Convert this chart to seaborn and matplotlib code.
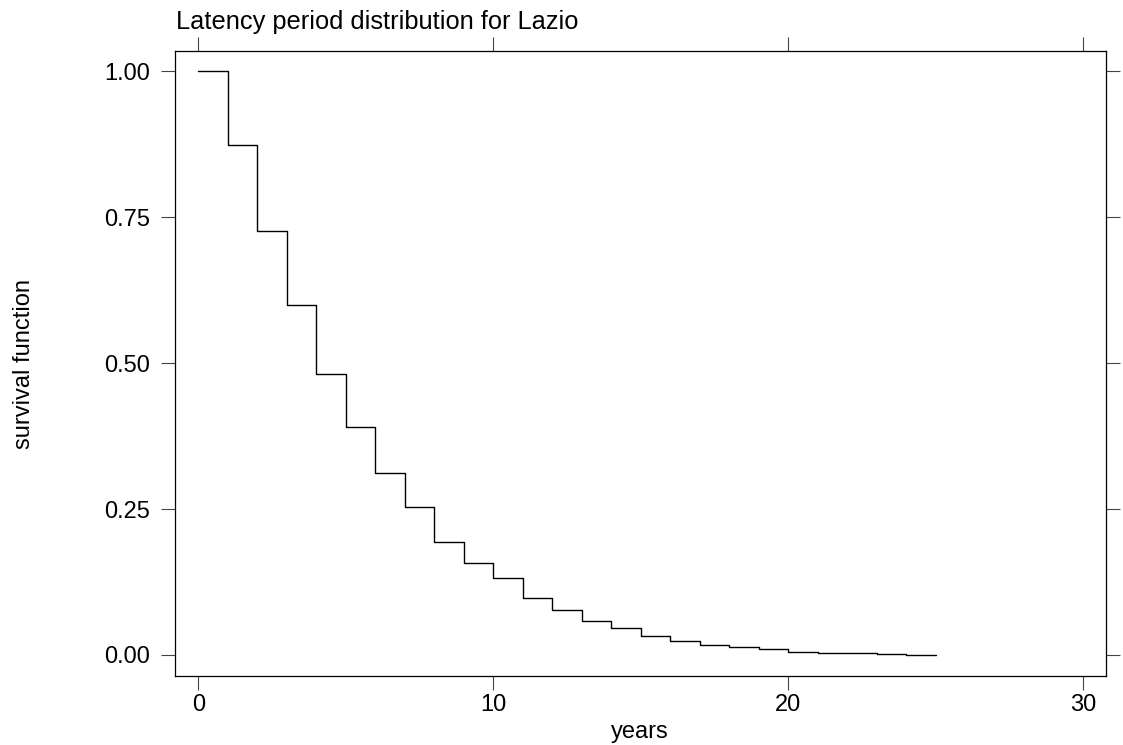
import pandas as pd
import seaborn as sns
import matplotlib.pyplot as plt

# survival function values, one per year (step held until next year)
years = list(range(26))
survival = [1.000, 0.874, 0.726, 0.600, 0.482, 0.390, 0.311, 0.253, 0.193, 0.157,
            0.132, 0.098, 0.077, 0.058, 0.047, 0.033, 0.024, 0.017, 0.013, 0.010,
            0.005, 0.004, 0.003, 0.002, 0.0007, 0.0007]

x_ticks = [0, 10, 20, 30]
y_ticks = [0.0, 0.25, 0.5, 0.75, 1.0]
y_ticklabels = ["0.00", "0.25", "0.50", "0.75", "1.00"]

title = "Latency period distribution for Lazio"

sns.set_style("ticks")
plt.rcParams["font.family"] = ["Liberation Sans", "DejaVu Sans"]
plt.rcParams["text.color"] = "black"
plt.rcParams["axes.labelcolor"] = "black"
plt.rcParams["xtick.labelcolor"] = "black"
plt.rcParams["ytick.labelcolor"] = "black"

df = pd.DataFrame({"years": years, "survival": survival})

fig = plt.figure(figsize=(11.23, 7.45), dpi=100)
ax = fig.add_axes([0.1558, 0.0926, 0.8288, 0.8389])

sns.lineplot(data=df, x="years", y="survival", drawstyle="steps-post",
             color="black", linewidth=1, errorbar=None, ax=ax)

ax.set_xlim(-0.79, 30.76)
ax.set_ylim(-0.036, 1.0343)
ax.set_xticks(x_ticks)
ax.set_yticks(y_ticks)
ax.set_yticklabels(y_ticklabels)

for side in ["top", "right", "bottom", "left"]:
    ax.spines[side].set_visible(True)
    ax.spines[side].set_linewidth(0.9)
    ax.spines[side].set_color("black")

ax.tick_params(axis="both", which="both", direction="out", length=10, width=0.8,
               color="#444444", labelsize=17, top=True, right=True,
               labeltop=False, labelright=False)
ax.tick_params(axis="x", pad=3)
ax.tick_params(axis="y", pad=8)

ax.set_xlabel("years", fontsize=17)
ax.set_ylabel("survival function", fontsize=17)
ax.xaxis.set_label_coords(0.5, -0.072)
ax.yaxis.set_label_coords(-0.150, 0.5)

fig.text(176 / 1123, 1 - 29 / 745, title, fontsize=18.3, ha="left", va="baseline")

fig.savefig("out.png", dpi=100)
